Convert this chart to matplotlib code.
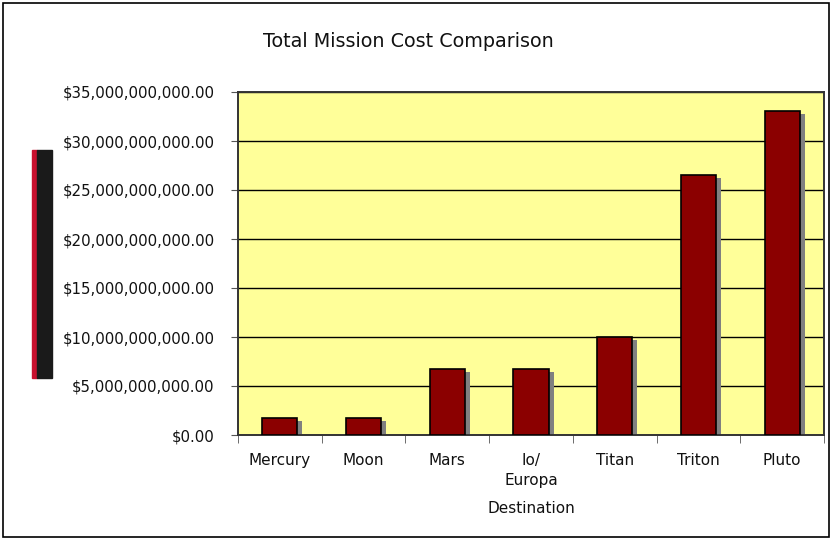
import matplotlib
matplotlib.use("Agg")
import matplotlib.pyplot as plt
from matplotlib.patches import Rectangle
from matplotlib.ticker import FuncFormatter
import numpy as np

destinations = ["Mercury", "Moon", "Mars", "Io/\nEuropa", "Titan", "Triton", "Pluto"]
total_cost = [1.75e9, 1.75e9, 6.7e9, 6.7e9, 10.0e9, 26.5e9, 33.1e9]
y_ticks = [0, 5e9, 10e9, 15e9, 20e9, 25e9, 30e9, 35e9]

W, H = 832, 540
fig = plt.figure(figsize=(W / 100, H / 100), dpi=100)
plt.rcParams["font.family"] = ["DejaVu Sans"]

# outer chart border
fig.patches.append(Rectangle((3 / W, 3 / H), 826 / W, 534 / H, transform=fig.transFigure,
                             fill=False, edgecolor="black", linewidth=1.2))

ax = fig.add_axes([238 / W, 1 - 435 / H, (824 - 238) / W, (435 - 92) / H])
ax.set_facecolor("#FFFF99")

x = np.arange(len(destinations))
bw = 0.42
# shadows, then bars
ax.bar(x + 0.06, total_cost, bw, bottom=-0.3e9, color="#808080", zorder=2)
ax.bar(x, total_cost, bw, color="#8B0000", edgecolor="black", linewidth=1.2, zorder=3)

ax.set_xlim(-0.5, len(destinations) - 0.5)
ax.set_ylim(0, 35e9)
ax.set_yticks(y_ticks)
ax.yaxis.set_major_formatter(FuncFormatter(lambda v, p: f"${v:,.2f}"))
ax.grid(axis="y", color="black", linewidth=1, zorder=1)
ax.set_axisbelow(True)

ax.set_xticks(x)
ax.set_xticklabels(destinations, fontsize=11, linespacing=1.45, color="#111111")
ax.set_xticks(np.arange(len(destinations) + 1) - 0.5, minor=True)
ax.tick_params(axis="x", which="major", length=0, pad=13)
ax.tick_params(axis="x", which="minor", length=6, color="#555555", direction="out")
ax.tick_params(axis="y", length=5, labelsize=10.8, color="#555555", pad=12,
               labelcolor="#111111")
for s in ax.spines.values():
    s.set_color("#333333")
    s.set_linewidth(1.4)

ax.set_xlabel("Destination", fontsize=11, labelpad=9, color="#111111")
fig.text(408 / W, 1 - 42 / H, "Total Mission Cost Comparison", ha="center", va="center",
         fontsize=13.8, color="#111111")

# garbled axis-title image in the original, shown as a dark strip
fig.patches.append(Rectangle((32 / W, 1 - 378 / H), 5 / W, 228 / H, transform=fig.transFigure,
                             color="#C8102E"))
fig.patches.append(Rectangle((37 / W, 1 - 378 / H), 15 / W, 228 / H, transform=fig.transFigure,
                             color="#1a1a1a"))

fig.savefig("out.png", dpi=100)
